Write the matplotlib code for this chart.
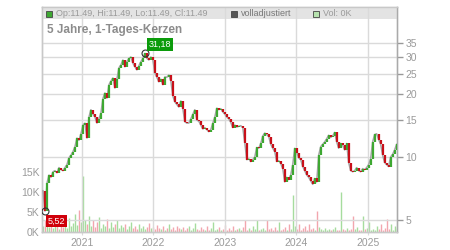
import matplotlib

matplotlib.use("Agg")
import matplotlib.dates as mdates
import matplotlib.pyplot as plt
import matplotlib.ticker as mticker
import pandas as pd
from matplotlib.patches import Rectangle

FIG_W, FIG_H = 450, 250
DPI = 100

START_DATE = "2020-06-16"
END_DATE = "2025-05-29"

# close prices at roughly 10-day steps
CLOSES = [
    6.9, 5.52, 7.5, 8.2, 8.0, 8.5, 8.6, 8.4, 8.9, 8.7,
    8.6, 8.9, 9.2, 9.9, 10.2, 10.6, 11.2, 12.3, 12.0, 12.9,
    14.2, 14.5, 12.3, 15.5, 16.8, 16.0, 15.5, 14.5, 15.2, 16.2,
    19.0, 20.2, 19.1, 22.1, 23.0, 23.8, 21.3, 23.5, 26.6, 27.5,
    29.0, 26.9, 28.5, 29.5, 30.0, 28.0, 26.9, 26.0, 27.2, 28.5,
    29.5, 31.18, 29.5, 29.0, 30.0, 29.0, 25.2, 24.0, 22.8, 23.5,
    22.1, 24.1, 24.0, 24.6, 23.0, 19.5, 18.3, 17.8, 17.3, 18.5,
    17.0, 14.7, 14.5, 14.5, 15.2, 16.0, 16.8, 15.0, 14.8, 14.2,
    13.6, 13.8, 13.5, 13.2, 13.5, 14.5, 15.5, 17.1, 16.8, 17.0,
    16.4, 16.0, 15.5, 15.2, 14.6, 13.8, 14.2, 13.9, 14.0, 14.1,
    13.8, 11.7, 9.7, 9.8, 9.5, 9.7, 10.0, 11.1, 11.0, 11.6,
    12.6, 13.0, 12.8, 12.5, 11.5, 11.0, 10.6, 9.5, 9.6, 9.3,
    8.8, 7.6, 8.0, 7.8, 8.2, 9.2, 11.0, 10.5, 9.9, 9.7,
    9.0, 8.6, 8.2, 8.0, 7.7, 7.4, 7.9, 7.6, 10.2, 11.2,
    11.5, 11.8, 12.2, 12.7, 12.4, 12.6, 13.1, 11.8, 11.0, 11.6,
    11.4, 10.8, 11.6, 9.4, 8.6, 8.5, 8.6, 8.9, 8.6, 8.5,
    8.8, 8.7, 8.9, 9.2, 9.8, 11.8, 12.8, 12.9, 12.1, 11.5,
    10.2, 9.4, 9.2, 9.0, 10.0, 10.3, 10.8, 11.49,
]

# volume in thousands
VOLUME = [
    1.5, 3.0, 2.0, 1.2, 2.5, 1.0, 3.2, 1.5, 0.8, 2.0,
    1.2, 2.8, 1.0, 3.5, 1.5, 2.2, 4.5, 1.8, 5.5, 2.5,
    14.0, 3.0, 2.0, 4.0, 1.5, 3.0, 1.2, 2.5, 3.8, 1.0,
    2.0, 1.5, 3.2, 1.0, 2.4, 1.2, 2.0, 3.0, 1.0, 1.8,
    1.2, 2.0, 0.8, 1.5, 2.5, 1.0, 1.4, 0.8, 2.0, 1.0,
    1.5, 0.8, 1.2, 2.2, 0.9, 1.3, 0.7, 1.8, 1.0, 0.8,
    1.4, 0.6, 1.0, 2.0, 0.8, 1.2, 0.6, 1.5, 0.9, 0.7,
    1.2, 0.5, 0.9, 1.6, 0.6, 1.0, 2.2, 0.7, 0.5, 1.3,
    0.8, 0.6, 1.5, 0.5, 1.0, 2.5, 0.6, 0.8, 1.2, 0.5,
    0.7, 1.8, 0.5, 0.9, 0.6, 1.4, 0.5, 0.8, 1.0, 0.6,
    1.2, 3.0, 0.6, 0.9, 0.5, 1.5, 0.7, 3.0, 0.6, 0.8,
    1.0, 0.5, 3.0, 0.7, 0.9, 0.5, 1.2, 0.6, 2.5, 0.5,
    0.8, 1.2, 0.5, 2.0, 0.7, 9.2, 1.5, 0.8, 2.0, 0.6,
    0.9, 1.5, 0.5, 2.0, 0.7, 1.0, 0.6, 5.2, 1.2, 0.8,
    0.5, 1.0, 0.6, 0.8, 0.5, 0.7, 1.2, 0.6, 0.5, 10.0,
    0.8, 0.6, 1.0, 0.5, 0.7, 4.0, 0.8, 1.2, 0.6, 0.5,
    4.0, 0.7, 1.0, 2.5, 0.6, 0.8, 0.5, 1.5, 0.7, 2.0,
    0.6, 1.0, 3.2, 0.8, 2.0, 0.6, 1.5, 1.0,
]

PRICE_TICKS = [5, 10, 15, 20, 25, 30, 35]
VOLUME_TICKS = [0, 5, 10, 15]
VOLUME_TICK_LABELS = ["0K", "5K", "10K", "15K"]
YEARS = [2021, 2022, 2023, 2024, 2025]

TITLE = "5 Jahre, 1-Tages-Kerzen"
LEGEND_OHLC = "Op:11.49, Hi:11.49, Lo:11.49, Cl:11.49"
LEGEND_ADJ = "volladjustiert"
LEGEND_VOL = "Vol: 0K"

UP = "#3ea832"
DOWN = "#c8101a"
VOL_UP = "#a6dc9e"
VOL_DOWN = "#f2a6ae"
GRID = "#dadada"
TEXT = "#9a9a9a"

plt.rcParams.update({"font.family": ["Liberation Sans", "DejaVu Sans"]})


def px(x, y):
    """figure fraction from pixel coordinates (origin top left)"""
    return x / FIG_W, 1 - y / FIG_H


def main() -> None:
    dates = pd.date_range(START_DATE, END_DATE, periods=len(CLOSES))
    opens = [CLOSES[0]] + CLOSES[:-1]
    up = [c >= o for o, c in zip(opens, CLOSES)]

    fig = plt.figure(figsize=(FIG_W / DPI, FIG_H / DPI), dpi=DPI)
    left, bottom = px(42, 232)
    rect = [left, bottom, 355 / FIG_W, 225 / FIG_H]

    axv = fig.add_axes(rect)
    ax = axv.twinx()

    # volume (left axis) - thin vlines so none get snapped away
    axv.vlines(dates, 0, VOLUME, colors=[VOL_UP if u else VOL_DOWN for u in up],
               lw=1.0, zorder=2)
    axv.set_ylim(0, 56.25)
    axv.set_yticks(VOLUME_TICKS)
    axv.set_yticklabels(VOLUME_TICK_LABELS)
    axv.tick_params(axis="y", length=0, pad=2, labelsize=7.5, labelcolor=TEXT)

    # price (right axis, log)
    ax.set_yscale("log")
    ax.set_ylim(4.386, 51.9)
    ax.set_yticks(PRICE_TICKS)
    ax.yaxis.set_major_formatter(mticker.FormatStrFormatter("%d"))
    ax.yaxis.set_minor_locator(mticker.NullLocator())
    ax.tick_params(axis="y", length=4, width=1, color="#999999", pad=2,
                   labelsize=7.5, labelcolor=TEXT)

    for a in (ax, axv):
        for s in a.spines.values():
            s.set_color("#c8c8c8")
            s.set_linewidth(1)
    ax.spines["right"].set_color("#aaaaaa")

    # legend band
    ax.add_patch(Rectangle((0, 213 / 225), 1, 11 / 225, transform=ax.transAxes,
                           facecolor="#e3e3e3", edgecolor="none", zorder=0))

    # grid
    for p in PRICE_TICKS:
        ax.axhline(p, color=GRID, lw=1, zorder=0.5)
    for yr in YEARS:
        ax.axvline(pd.Timestamp(f"{yr}-01-01"), color=GRID, lw=1, zorder=0.5)

    ax.plot(dates, CLOSES, color="#a5a5a5", lw=1.1, zorder=3)
    ax.vlines(dates, opens, CLOSES, colors=[UP if u else DOWN for u in up],
              lw=1.6, zorder=4)

    axv.set_xlim(pd.Timestamp("2020-06-11"), pd.Timestamp("2025-05-31"))
    axv.xaxis.set_major_locator(mdates.YearLocator())
    axv.xaxis.set_major_formatter(mdates.DateFormatter("%Y"))
    axv.tick_params(axis="x", length=2, color=GRID, pad=2, labelsize=7.5,
                    labelcolor=TEXT)

    # high / low markers
    hi_i = CLOSES.index(max(CLOSES))
    lo_i = CLOSES.index(min(CLOSES))
    for i in (hi_i, lo_i):
        ax.plot(dates[i], CLOSES[i], "o", ms=5, mfc="none", mec="#333333",
                mew=0.8, zorder=6)
    ax.annotate(f"{CLOSES[hi_i]:.2f}".replace(".", ","), (dates[hi_i], CLOSES[hi_i]),
                xytext=(3, 3), textcoords="offset points", ha="left", va="bottom",
                fontsize=6.5, color="white", zorder=7,
                bbox=dict(boxstyle="square,pad=0.2", fc="#0b9b0b", ec="none"))
    ax.annotate(f"{CLOSES[lo_i]:.2f}".replace(".", ","), (dates[lo_i], CLOSES[lo_i]),
                xytext=(2, -4), textcoords="offset points", ha="left", va="top",
                fontsize=6.5, color="white", zorder=7,
                bbox=dict(boxstyle="square,pad=0.2", fc="#d0000a", ec="none"))

    # title and legend row
    fig.text(*px(47, 30), TITLE, fontsize=8.5, fontweight="bold", color="#8c8c8c",
             va="center", ha="left")
    for x0, fc, label, tc in [
        (46, "#3ea832", LEGEND_OHLC, TEXT),
        (231, "#555555", LEGEND_ADJ, "#777777"),
        (313, "#b6e2ae", LEGEND_VOL, TEXT),
    ]:
        fx, fy = px(x0, 17)
        fig.patches.append(Rectangle((fx, fy), 6 / FIG_W, 6 / FIG_H,
                                     transform=fig.transFigure, facecolor=fc,
                                     edgecolor="#444444", linewidth=0.6))
        fig.text(*px(x0 + 10, 14), label, fontsize=6.5, color=tc, va="center",
                 ha="left")

    fig.savefig("out.png", dpi=DPI)


if __name__ == "__main__":
    main()
